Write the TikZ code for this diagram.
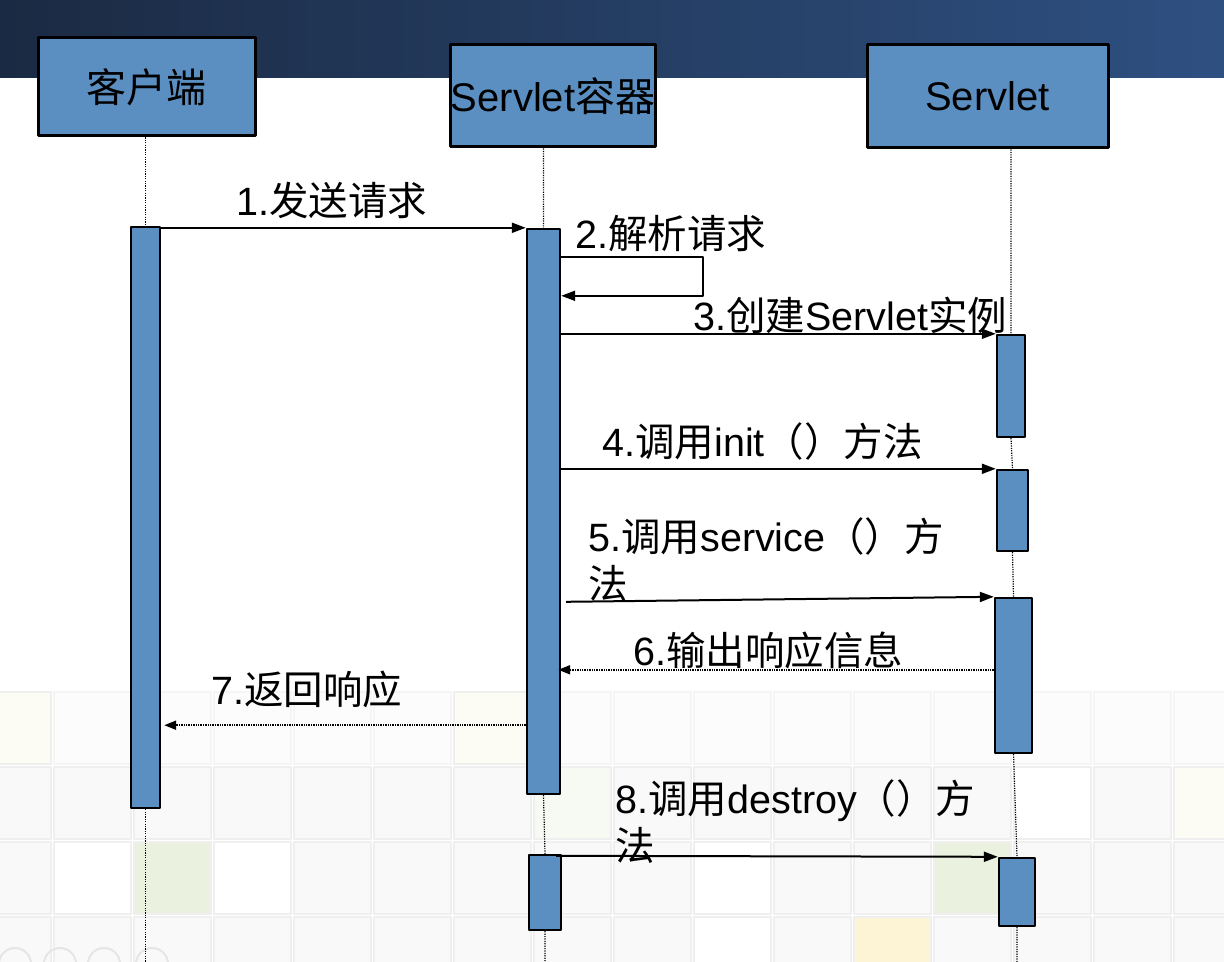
\documentclass[tikz,border=0pt]{standalone}
\usepackage{fontspec}
\setmainfont{Liberation Sans}
\newfontfamily\cjk{Noto Sans CJK SC}
\usetikzlibrary{arrows.meta,calc,fit,positioning}
\definecolor{boxblue}{HTML}{5B8FC2}
\definecolor{hdrL}{HTML}{1B2A43}
\definecolor{hdrR}{HTML}{2E5081}
\definecolor{tilegray}{HTML}{F9F9F9}
\definecolor{tileline}{HTML}{EFEFEF}
\definecolor{tilegreen}{HTML}{EAF2DF}
\definecolor{tileyellow}{HTML}{FCF4D5}
\definecolor{tilepale}{HTML}{FDFCF4}
\tikzset{
  actor/.style={draw,line width=1.5pt,fill=boxblue,inner sep=0pt,font=\fontsize{20}{24}\selectfont},
  bar/.style={draw,line width=1.2pt,fill=boxblue,inner sep=0pt},
  life/.style={line width=0.6pt,dash pattern=on 0.6pt off 0.6pt},
  msg/.style={line width=1pt,-{Triangle[length=7pt,width=5pt]}},
  ret/.style={line width=1pt,dash pattern=on 0.7pt off 0.5pt,-{Triangle[length=6pt,width=4.5pt]}},
  lbl/.style={anchor=base west,inner sep=0pt,font=\fontsize{19.75}{24}\selectfont},
  tile/.style={fill=tilegray,draw=tileline,line width=0.8pt},
}
\begin{document}
\begin{tikzpicture}[x=0.5pt,y=-0.5pt,line join=round]
\useasboundingbox (0,0) rectangle (1224,962);
\coordinate (bot) at (0,962);
% background
\shade[left color=hdrL,right color=hdrR] (0,0) rectangle (1224,78);
\foreach \r in {0,...,3}{\foreach \c in {0,...,15}{\draw[tile] ({-26+80*\c},{692+75*\r}) rectangle ++(77,72);}}
\foreach \c in {0,...,15}{\draw[tile,fill=white!50!tilegray,draw=white!40!tileline] ({-26+80*\c},692) rectangle ++(77,72);}
\foreach \c/\r/\col in {0/0/tilepale,6/0/tilepale,7/1/tilegreen!40,15/1/tilepale,2/2/tilegreen,12/2/tilegreen,11/3/tileyellow,1/2/white,3/2/white,9/2/white,9/3/white,13/1/white}{
  \draw[tile,fill=\col] ({-26+80*\c},{692+75*\r}) rectangle ++(77,72);}
\foreach \x in {15,60,104,152}{\draw[black!10,line width=1pt] (\x,964) circle (16);}
% actors
\node[actor,minimum width=108.5pt,minimum height=49pt] (cli) at (146.5,87) {{\cjk 客户端}};
\node[actor,minimum width=102pt,minimum height=51pt] (con) at (553,96) {Servlet{\cjk 容器}};
\node[actor,minimum width=120.5pt,minimum height=51.5pt] (srv) at (987.5,96.5) {Servlet};
% activation bars
\foreach \n/\xa/\ya/\xb/\yb in {c1/131/227/160/808,k1/527/229/560/794,k2/529/855/561/930,
  s1/997/335/1025/437,s2/997/470/1028/551,s3/995/598/1032/753,s4/999/858/1035/926}{
  \node[bar,fit={(\xa,\ya) (\xb,\yb)}] (\n) {};}
% lifelines
\draw[life] (cli.south -| c1.north)--(c1.north) (c1.south)--(c1.south |- bot);
\draw[life] (con.south -| k1.north)--(k1.north) (k1.south)--(k2.north) (k2.south)--(k2.south |- bot);
\draw[life] (srv.south -| s1.north)--(s1.north) (s1.south)--(s2.north) (s2.south)--(s3.north) (s3.south)--(s4.north) (s4.south)--(s4.south |- bot);
% messages
\draw[msg] ($(c1.north east)+(0,2)$) -- (k1.north west);
\draw[msg] ($(k1.north east)+(0,29)$) -- ++(142,0) -- ++(0,39) -- ($(k1.north east)+(0,68)$);
\draw[msg] ($(k1.north east)+(0,106)$) -- (s1.north west);
\draw[msg] (k1.east |- s2.north west) -- (s2.north west);
\draw[msg] ($(k1.east |- s3.north west)+(5,5)$) -- (s3.north west);
\coordinate (r6) at ($(s3.north west)+(0,73)$);
\draw[ret] (r6) -- ($(k1.east |- r6)+(-3,0)$);
\coordinate (r7) at ($(k1.south west)+(0,-70)$);
\draw[ret] (r7) -- ($(c1.east |- r7)+(3,0)$);
\draw[msg] ($(k2.north east)+(-6,2)$) -- (s4.north west);
% labels
\node[lbl] (l1) at (236,216) {1.{\cjk 发送请求}};
\node[lbl] (l2) at (575,249) {2.{\cjk 解析请求}};
\node[lbl] (l3) at (693,330) {3.{\cjk 创建}Servlet{\cjk 实例}};
\node[lbl] (l4) at (602,456) {4.{\cjk 调用}init{\cjk （）方法}};
\node[lbl] (l5) at (588,551) {5.{\cjk 调用}service{\cjk （）方}};
\node[lbl] (l5b) at ($(l5.base west)+(0,47)$) {{\cjk 法}};
\node[lbl] (l6) at (633,665) {6.{\cjk 输出响应信息}};
\node[lbl] (l7) at (211,704) {7.{\cjk 返回响应}};
\node[lbl] (l8) at (615,813) {8.{\cjk 调用}destroy{\cjk （）方}};
\node[lbl] (l8b) at ($(l8.base west)+(0,47)$) {{\cjk 法}};
\end{tikzpicture}
\end{document}
